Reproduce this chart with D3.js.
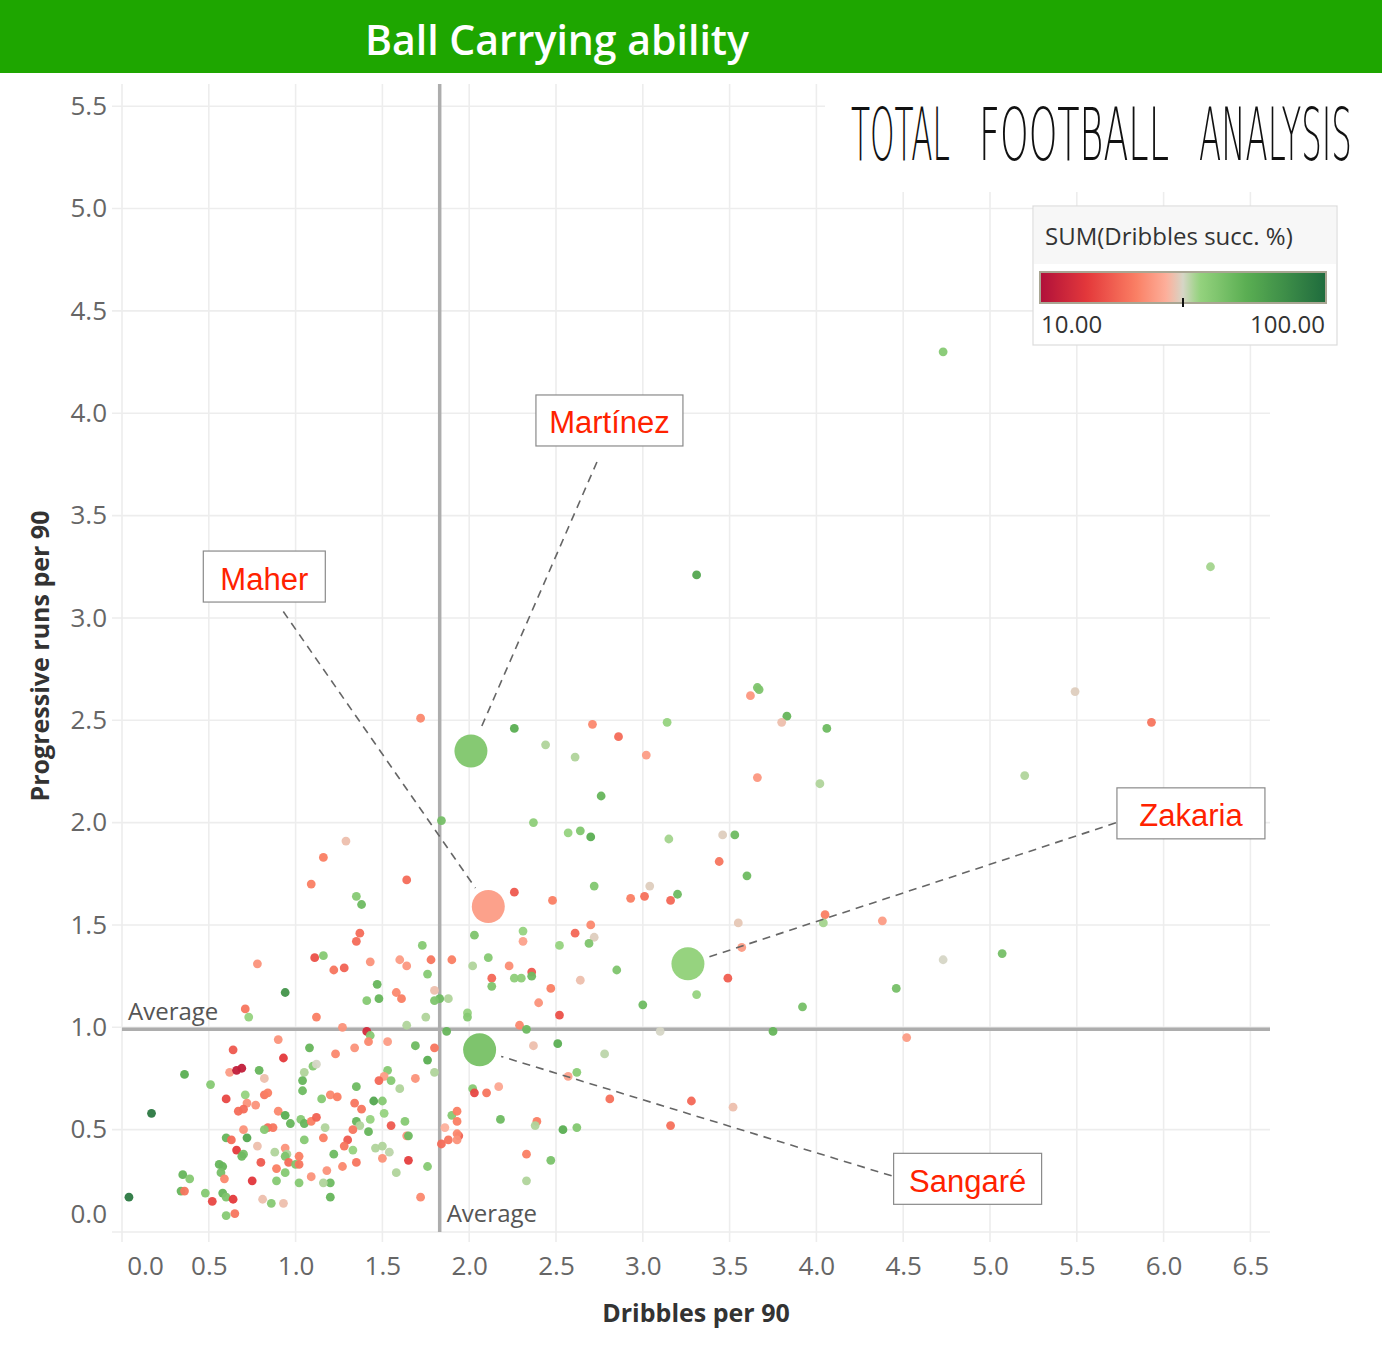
<!DOCTYPE html>
<html><head><meta charset="utf-8">
<script src="https://cdn.jsdelivr.net/npm/d3@7"></script>
<style>body{margin:0;background:#fff}svg{display:block}</style>
</head><body>
<svg id="chart" width="1382" height="1360"></svg>
<script>
// ---------------- data ----------------
const chartTitle = "Ball Carrying ability";
const xAxisTitle = "Dribbles per 90";
const yAxisTitle = "Progressive runs per 90";
const xTicks = [0, 0.5, 1, 1.5, 2, 2.5, 3, 3.5, 4, 4.5, 5, 5.5, 6, 6.5];
const yTicks = [0, 0.5, 1, 1.5, 2, 2.5, 3, 3.5, 4, 4.5, 5, 5.5];
const xAverage = 1.83;
const yAverage = 0.99;
const legendTitle = "SUM(Dribbles succ. %)";
const legendLabels = ["10.00", "100.00"];
const colorStops = [10, 25, 40, 50, 55, 60, 75, 100];
const colorRange = ["#b0103a", "#e4393b", "#fa7e63", "#fdb09c", "#d6d6c6", "#96d37f", "#5aae52", "#1f6b3d"];
const logoWords = ["TOTAL", "FOOTBALL", "ANALYSIS"];

// [dribbles per 90, progressive runs per 90, dribbles success %]
const players = [
[4.73,4.30,64],[6.27,3.25,59],[3.31,3.21,78],[5.49,2.64,54],[5.93,2.49,38],[3.62,2.62,45],[3.66,2.66,66],[3.67,2.65,66],
[3.83,2.52,72],[3.80,2.49,52],[4.06,2.46,70],[3.66,2.22,45],[4.02,2.19,58],[3.14,2.49,60],[3.46,1.94,54],[3.53,1.94,70],
[3.15,1.92,59],[3.44,1.81,38],[3.60,1.74,70],[3.20,1.65,70],[3.16,1.62,35],[3.55,1.51,53],[3.57,1.39,46],[4.05,1.55,40],
[4.04,1.51,59],[4.38,1.52,46],[3.49,1.24,33],[3.31,1.16,60],[3.92,1.10,68],[4.46,1.19,68],[3.75,0.98,72],[4.52,0.95,46],
[4.73,1.33,55],[5.07,1.36,68],[5.20,2.23,58],[3.10,0.98,55],
[2.26,2.46,75],[2.44,2.38,58],[2.71,2.48,42],[2.86,2.42,36],[2.61,2.32,58],[3.02,2.33,46],[2.76,2.13,72],[1.84,2.01,68],
[2.37,2.00,62],[2.57,1.95,60],[2.64,1.96,65],[2.70,1.93,75],
[2.26,1.66,32],[2.72,1.69,65],[3.04,1.69,54],[2.48,1.62,40],[2.93,1.63,40],[3.01,1.64,37],[2.03,1.45,66],[2.31,1.47,60],
[2.31,1.42,47],[2.61,1.46,35],[2.70,1.50,42],[2.72,1.44,54],[2.69,1.41,66],[2.52,1.40,60],[1.90,1.33,40],[2.02,1.30,58],
[2.11,1.34,64],[2.23,1.30,43],[2.13,1.24,35],[2.13,1.20,66],[2.26,1.24,62],[2.30,1.24,62],[2.36,1.27,32],[2.36,1.25,70],
[2.85,1.28,66],[2.64,1.23,52],[2.47,1.19,40],[1.83,1.14,70],[1.88,1.14,58],[2.40,1.12,44],[1.99,1.07,60],[1.99,1.05,64],
[2.52,1.06,30],[3.00,1.11,70],[2.29,1.01,42],[2.33,0.99,70],[1.87,0.98,72],[2.37,0.91,52],[2.51,0.92,75],[2.78,0.87,57],
[2.57,0.76,47],[2.62,0.78,63],[2.81,0.65,37],[3.28,0.64,35],[3.52,0.61,52],[3.16,0.52,37],[2.54,0.50,75],[2.62,0.51,65],
[2.47,0.35,67],
[1.41,0.98,20],[1.43,0.96,64],[1.27,1.00,44],[1.64,1.01,58],[1.75,1.05,58],[1.42,0.93,42],[1.53,0.93,46],[1.34,0.90,44],
[1.23,0.87,42],[1.69,0.91,70],[1.80,0.90,38],[1.76,0.84,75],[1.53,0.79,64],[1.69,0.75,44],[1.80,0.78,58],[1.51,0.76,46],
[1.48,0.74,35],[1.55,0.74,64],[1.60,0.70,58],[1.35,0.71,70],[2.02,0.70,64],[2.03,0.68,28],[2.10,0.68,38],[2.17,0.71,48],
[1.45,0.64,78],[1.50,0.64,64],[1.34,0.63,38],[1.38,0.60,38],[1.51,0.58,60],[1.35,0.54,72],[1.37,0.52,58],[1.43,0.55,60],
[1.63,0.54,64],[1.55,0.52,32],[1.33,0.50,38],[1.42,0.49,72],[1.90,0.57,64],[1.93,0.59,40],[1.93,0.54,40],[1.86,0.51,50],
[1.64,0.47,44],[1.65,0.47,70],[1.94,0.47,34],[1.93,0.48,42],[1.84,0.43,36],[1.88,0.45,38],[1.93,0.45,44],[1.30,0.45,32],
[1.28,0.42,38],[1.33,0.40,60],[1.46,0.41,58],[1.50,0.42,58],[1.54,0.39,57],[1.50,0.36,44],[1.65,0.35,26],[1.22,0.38,70],
[1.27,0.32,42],[1.35,0.34,38],[1.58,0.29,58],[1.76,0.32,64],[2.33,0.38,40],[2.33,0.25,58],[1.20,0.24,70],[1.20,0.17,72],
[1.72,0.17,42],[2.39,0.54,40],[2.38,0.52,58],[2.18,0.55,70],
[0.71,1.09,38],[0.73,1.05,60],[1.12,1.05,40],[0.90,0.94,44],[0.64,0.89,32],[1.08,0.90,72],[0.93,0.85,25],[0.36,0.77,75],
[0.62,0.78,46],[0.66,0.79,15],[0.69,0.80,15],[0.79,0.79,72],[0.82,0.75,52],[0.51,0.72,64],[1.05,0.78,58],[1.10,0.81,64],
[1.12,0.82,55],[1.04,0.74,72],[1.04,0.69,70],[0.71,0.67,60],[0.72,0.63,44],[0.60,0.65,28],[0.77,0.62,44],[0.82,0.67,38],
[0.84,0.68,40],[1.15,0.65,64],[1.20,0.67,42],[1.24,0.66,40],[0.67,0.59,36],[0.70,0.60,36],[0.90,0.59,42],[0.17,0.58,95],
[0.94,0.57,75],[0.97,0.53,72],[1.03,0.55,64],[1.05,0.53,72],[1.09,0.54,40],[1.12,0.56,34],[1.17,0.51,58],[0.70,0.50,44],
[0.84,0.51,36],[0.87,0.51,38],[0.82,0.50,64],[0.60,0.46,72],[0.63,0.45,36],[0.72,0.46,78],[1.05,0.45,64],[1.16,0.46,40],
[0.78,0.42,52],[0.94,0.41,44],[0.66,0.40,25],[0.70,0.38,68],[0.69,0.37,70],[0.88,0.39,58],[0.95,0.38,58],[0.94,0.37,66],
[1.02,0.37,40],[0.56,0.33,72],[0.58,0.32,72],[0.80,0.34,32],[0.89,0.31,40],[0.94,0.29,64],[0.96,0.34,36],[1.00,0.33,66],
[1.02,0.33,38],[0.57,0.29,68],[0.59,0.26,42],[0.35,0.28,72],[0.39,0.26,64],[0.75,0.25,24],[0.89,0.25,64],[1.09,0.27,44],
[1.18,0.30,44],[1.16,0.24,58],[1.02,0.24,64],[0.34,0.20,72],[0.36,0.20,38],[0.48,0.19,64],[0.58,0.19,72],[0.60,0.17,66],
[0.64,0.16,25],[0.52,0.15,28],[0.81,0.16,52],[0.86,0.14,64],[0.93,0.14,52],[0.04,0.17,95],[0.60,0.08,64],[0.65,0.09,38],
[1.16,1.83,40],[1.09,1.70,40],[1.64,1.72,36],[1.35,1.64,64],[1.38,1.60,70],[1.37,1.46,36],[1.35,1.42,36],[1.11,1.34,30],
[1.16,1.35,64],[0.78,1.31,44],[1.22,1.28,38],[1.28,1.29,34],[1.43,1.32,44],[1.60,1.33,46],[1.64,1.30,45],[1.73,1.40,64],
[1.78,1.33,38],[1.76,1.26,64],[1.47,1.21,72],[0.94,1.17,85],[1.58,1.17,42],[1.61,1.14,40],[1.80,1.18,52],[1.41,1.13,64],
[1.48,1.14,72],[1.80,1.13,66],[1.72,2.51,42],[1.29,1.91,52]
];

const highlightNames = ["Martínez", "Maher", "Zakaria", "Sangaré"];
const highlightDribbles = [2.01, 2.11, 3.26, 2.06];
const highlightRuns = [2.35, 1.59, 1.31, 0.89];
const highlightPct = [64, 47, 60, 66];

// ---------------- layout ----------------
const W = 1382, H = 1360;
const plot = {left: 122, right: 1270, top: 84, bottom: 1232};
const svg = d3.select("#chart");
const x = d3.scaleLinear().domain([0, 6.5]).range([122, 1250.4]);
const y = d3.scaleLinear().domain([0, 5.5]).range([1232, 106.2]);
const color = d3.scaleLinear().domain(colorStops).range(colorRange).interpolate(d3.interpolateRgb).clamp(true);
const FONT = "'Open Sans', 'Noto Sans', sans-serif";

svg.append("rect").attr("width", W).attr("height", H).attr("fill", "#fff");

// gridlines
svg.append("g").selectAll("line").data(xTicks).join("line")
  .attr("x1", d => x(d)).attr("x2", d => x(d))
  .attr("y1", plot.top).attr("y2", plot.bottom + 10)
  .attr("stroke", "#ededed").attr("stroke-width", 1.6);
svg.append("g").selectAll("line").data(yTicks).join("line")
  .attr("x1", plot.left - 10).attr("x2", plot.right)
  .attr("y1", d => y(d)).attr("y2", d => y(d))
  .attr("stroke", "#ededed").attr("stroke-width", 1.6);

// axes labels
const xAxis = svg.append("g").attr("transform", `translate(0,${plot.bottom})`)
  .call(d3.axisBottom(x).tickValues(xTicks).tickFormat(d3.format(".1f")).tickSize(0).tickPadding(25));
xAxis.select(".domain").remove();
xAxis.selectAll("text").attr("font-family", FONT).attr("font-size", 26).attr("fill", "#666")
  .attr("dx", d => d === 0 ? 23 : 0);
const yAxis = svg.append("g").attr("transform", `translate(${plot.left},0)`)
  .call(d3.axisLeft(y).tickValues(yTicks).tickFormat(d3.format(".1f")).tickSize(0).tickPadding(15));
yAxis.select(".domain").remove();
yAxis.selectAll("text").attr("font-family", FONT).attr("font-size", 26).attr("fill", "#666")
  .attr("y", d => d === 0 ? -18 : 0);

// average reference lines
svg.append("line").attr("x1", x(xAverage)).attr("x2", x(xAverage))
  .attr("y1", plot.top).attr("y2", plot.bottom)
  .attr("stroke", "#adadad").attr("stroke-width", 3.5);
svg.append("line").attr("x1", plot.left).attr("x2", plot.right)
  .attr("y1", y(yAverage)).attr("y2", y(yAverage))
  .attr("stroke", "#adadad").attr("stroke-width", 3.5);
svg.append("text").text("Average").attr("x", plot.left + 6).attr("y", y(yAverage) - 9)
  .attr("font-family", FONT).attr("font-size", 24).attr("fill", "#555");
svg.append("text").text("Average").attr("x", x(xAverage) + 7).attr("y", plot.bottom - 10)
  .attr("font-family", FONT).attr("font-size", 24).attr("fill", "#555");

// points
svg.append("g").selectAll("circle").data(players).join("circle")
  .attr("cx", d => x(d[0])).attr("cy", d => y(d[1])).attr("r", 4.4)
  .attr("fill", d => color(d[2])).attr("fill-opacity", 0.95);

// highlighted players
const highlights = highlightNames.map((n, i) => ({name: n, dx: highlightDribbles[i], ry: highlightRuns[i], pct: highlightPct[i]}));
const R = 16.5;
// annotation box centre, box width and leader start, as pixel offsets from the point
const labelLayout = {
  "Martínez": {bx: 138.5, by: -330.5, w: 147, lx: 126, ly: -289},
  "Maher": {bx: -224, by: -330, w: 122, lx: -205, ly: -295},
  "Zakaria": {bx: 503, by: -150.5, w: 148, lx: 428, ly: -141},
  "Sangaré": {bx: 488, by: 129, w: 148, lx: 412, ly: 126}
};
const annG = svg.append("g");
highlights.forEach(h => {
  const cx = x(h.dx), cy = y(h.ry), L = labelLayout[h.name];
  const sx = cx + L.lx, sy = cy + L.ly;
  const ang = Math.atan2(sy - cy, sx - cx);
  const ex = cx + Math.cos(ang) * (R + 6), ey = cy + Math.sin(ang) * (R + 6);
  annG.append("line").attr("x1", sx).attr("y1", sy).attr("x2", ex).attr("y2", ey)
    .attr("stroke", "#666").attr("stroke-width", 1.6).attr("stroke-dasharray", "8,6");
});
svg.append("g").selectAll("circle").data(highlights).join("circle")
  .attr("cx", d => x(d.dx)).attr("cy", d => y(d.ry)).attr("r", R)
  .attr("fill", d => color(d.pct));
highlights.forEach(h => {
  const cx = x(h.dx), cy = y(h.ry), L = labelLayout[h.name];
  const g = annG.append("g").attr("transform", `translate(${cx + L.bx},${cy + L.by})`);
  g.append("rect").attr("x", -L.w / 2).attr("y", -25.5).attr("width", L.w).attr("height", 51)
    .attr("fill", "#fff").attr("stroke", "#8a8a8a").attr("stroke-width", 1.2);
  g.append("text").text(h.name).attr("text-anchor", "middle").attr("y", 13)
    .attr("font-family", "'Liberation Sans', Arial, sans-serif").attr("font-size", 31).attr("fill", "#ff2200");
});

// logo area
svg.append("rect").attr("x", 825).attr("y", plot.top).attr("width", W - 825).attr("height", 108).attr("fill", "#fff");
const logoLayout = [[851, 99], [979, 190], [1199, 153]];
logoWords.forEach((w, i) => {
  const [lx, len] = logoLayout[i];
  const t = svg.append("text").text(w).attr("x", 0).attr("y", 0)
    .attr("font-family", "'DejaVu Sans', sans-serif").attr("font-weight", 200)
    .attr("font-size", 73).attr("fill", "#111");
  const nat = t.node().getComputedTextLength();
  t.attr("transform", `translate(${lx},160) scale(${len / nat},1)`);
});

// legend
const lg = svg.append("g");
lg.append("rect").attr("x", 1033).attr("y", 206).attr("width", 304).attr("height", 139)
  .attr("fill", "#fff").attr("stroke", "#dcdcdc").attr("stroke-width", 1.2);
lg.append("rect").attr("x", 1034).attr("y", 207).attr("width", 302).attr("height", 57).attr("fill", "#f7f7f7");
lg.append("text").text(legendTitle).attr("x", 1045).attr("y", 245)
  .attr("font-family", FONT).attr("font-size", 24).attr("fill", "#333");
const defs = svg.append("defs");
const grad = defs.append("linearGradient").attr("id", "lgGrad");
d3.range(0, 1.0001, 0.02).forEach(t => {
  grad.append("stop").attr("offset", t).attr("stop-color", color(colorStops[0] + t * (colorStops[colorStops.length - 1] - colorStops[0])));
});
const legendX = d3.scaleLinear().domain([colorStops[0], colorStops[colorStops.length - 1]]).range([1040, 1326]);
lg.append("rect").attr("x", 1040).attr("y", 272).attr("width", 286).attr("height", 31)
  .attr("fill", "url(#lgGrad)").attr("stroke", "#a9a693").attr("stroke-width", 2);
lg.append("line").attr("x1", legendX(55)).attr("x2", legendX(55)).attr("y1", 298).attr("y2", 307)
  .attr("stroke", "#111").attr("stroke-width", 2);
lg.append("text").text(legendLabels[0]).attr("x", 1041).attr("y", 333)
  .attr("font-family", FONT).attr("font-size", 24).attr("fill", "#333");
lg.append("text").text(legendLabels[1]).attr("x", 1325).attr("y", 333).attr("text-anchor", "end")
  .attr("font-family", FONT).attr("font-size", 24).attr("fill", "#333");

// axis titles
svg.append("text").text(xAxisTitle).attr("x", 696).attr("y", 1322).attr("text-anchor", "middle")
  .attr("font-family", FONT).attr("font-weight", 700).attr("font-size", 25).attr("fill", "#333");
svg.append("text").text(yAxisTitle).attr("transform", "translate(49,656) rotate(-90)").attr("text-anchor", "middle")
  .attr("font-family", FONT).attr("font-weight", 700).attr("font-size", 25).attr("fill", "#333");

// title bar
svg.append("rect").attr("x", 0).attr("y", 0).attr("width", W).attr("height", 73).attr("fill", "#1ea600");
svg.append("text").text(chartTitle).attr("x", 557).attr("y", 55).attr("text-anchor", "middle")
  .attr("font-family", FONT).attr("font-weight", 600).attr("font-size", 41).attr("fill", "#fff");
</script>
</body></html>
